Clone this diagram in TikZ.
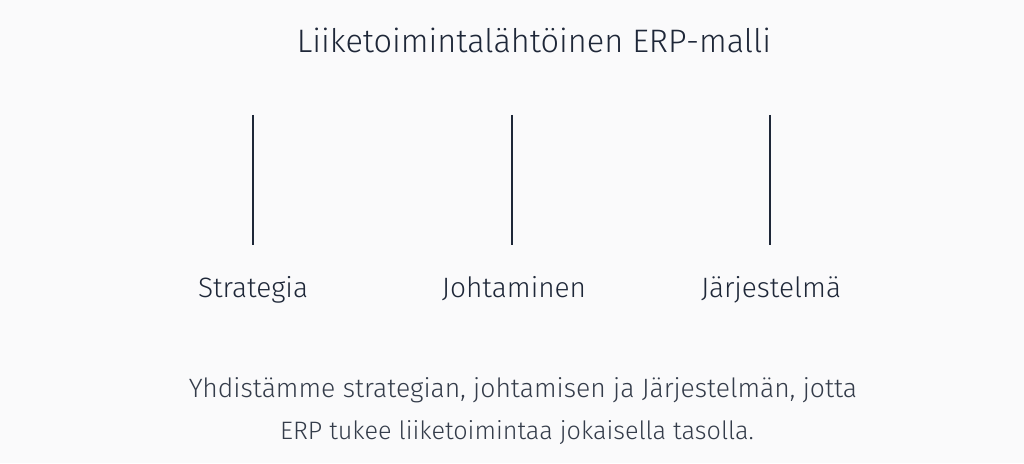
\documentclass[tikz,border=0pt]{standalone}
\usepackage{fontspec}
\setmainfont{Fira Sans}[UprightFont=* Light]
\definecolor{bg}{HTML}{FAFAFB}
\definecolor{ink}{HTML}{1E2738}
\definecolor{inktwo}{HTML}{343C4A}
\begin{document}
\begin{tikzpicture}[x=1pt,y=1pt,
  title/.style={text=ink,font=\fontsize{32.5}{38}\selectfont,anchor=base,inner sep=0pt},
  label/.style={text=ink,font=\fontsize{28}{32}\selectfont,anchor=base,inner sep=0pt},
  body/.style={text=inktwo,font=\fontsize{26.5}{30}\selectfont,anchor=base,inner sep=0pt},
  bar/.style={draw=ink,line width=1.6pt}]
\fill[bg] (0,0) rectangle (1024,463);
\useasboundingbox (0,0) rectangle (1024,463);
\node[title] (t) at (534,410) {Liiketoimintalähtöinen ERP-malli};
\coordinate (a1) at (253,348); \coordinate (a2) at (253,218);
\coordinate (b1) at (512,348); \coordinate (b2) at (512,218);
\coordinate (c1) at (770,348); \coordinate (c2) at (770,218);
\draw[bar] (a1) -- (a2);
\draw[bar] (b1) -- (b2);
\draw[bar] (c1) -- (c2);
\node[label] (s) at (253,165) {Strategia};
\node[label] (j) at (514,165) {Johtaminen};
\node[label] (r) at (771,165) {Järjestelmä};
\node[body] (l1) at (523,66) {Yhdistämme strategian, johtamisen ja Järjestelmän, jotta};
\node[body,font=\fontsize{25.2}{30}\selectfont] (l2) at (517,24) {ERP tukee liiketoimintaa jokaisella tasolla.};
\end{tikzpicture}
\end{document}
